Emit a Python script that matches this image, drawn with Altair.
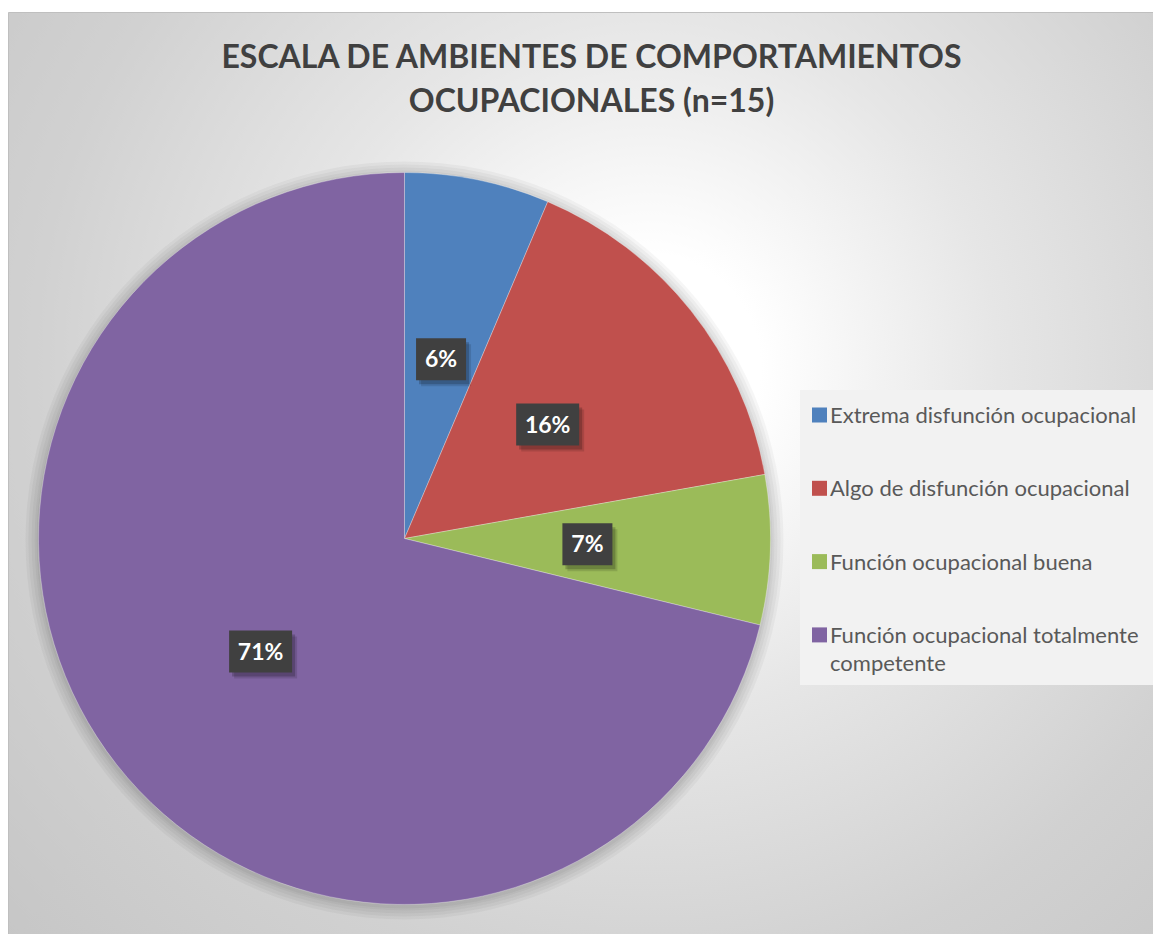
import altair as alt
import pandas as pd

# ---- data ----
CATEGORIAS = [
    "Extrema disfunción ocupacional",
    "Algo de disfunción ocupacional",
    "Función ocupacional buena",
    "Función ocupacional totalmente competente",
]
PORCENTAJES = [6.4, 15.8, 6.6, 71.2]
COLORES = ["#4F81BD", "#C0504D", "#9BBB59", "#8064A2"]
LEYENDA = [
    "Extrema disfunción ocupacional",
    "Algo de disfunción ocupacional",
    "Función ocupacional buena",
    "Función ocupacional totalmente\ncompetente",
]
TITULO = ["ESCALA DE AMBIENTES DE COMPORTAMIENTOS", "OCUPACIONALES (n=15)"]

# ---- layout ----
W, H = 1145, 926
CX, CY, R = 396.5, 530.5, 366
RL = R / 2
FONT = "Lato"

df = pd.DataFrame({
    "categoria": CATEGORIAS,
    "valor": PORCENTAJES,
    "orden": list(range(len(CATEGORIAS))),
    "leyenda": LEYENDA,
})
uno = pd.DataFrame({"k": [0]})

color_scale = alt.Scale(domain=CATEGORIAS, range=COLORES)

gradiente = {
    "gradient": "radial",
    "x1": 0.55, "y1": 0.40, "r1": 0,
    "x2": 0.55, "y2": 0.40, "r2": 0.8,
    "stops": [
        {"offset": 0.0, "color": "#ffffff"},
        {"offset": 0.12, "color": "#ffffff"},
        {"offset": 0.375, "color": "#e6e6e6"},
        {"offset": 0.66, "color": "#d1d1d1"},
        {"offset": 0.85, "color": "#c9c9c9"},
        {"offset": 1.0, "color": "#c3c3c3"},
    ],
}

fondo = alt.Chart(uno).mark_rect(fill=gradiente, stroke="#bfbfbf", strokeWidth=1).encode(
    x=alt.value(0.5), x2=alt.value(W + 20), y=alt.value(4.5), y2=alt.value(H + 20)
)

sombras = [
    alt.Chart(uno).mark_arc(theta=0, theta2=6.2832, radius=R + k, color="#000000", opacity=0.035).encode(
        x=alt.value(CX), y=alt.value(CY + 2)
    )
    for k in (2, 4, 7, 10, 13)
]

pie = alt.Chart(df).mark_arc(radius=R, stroke="#ffffff", strokeWidth=0.6, strokeOpacity=0.5).encode(
    theta=alt.Theta("valor:Q", stack=True),
    color=alt.Color("categoria:N", scale=color_scale, legend=None),
    order=alt.Order("orden:Q", sort="ascending"),
    x=alt.value(CX),
    y=alt.value(CY),
)

base_lab = (
    alt.Chart(df)
    .transform_joinaggregate(total="sum(valor)")
    .transform_window(cum="sum(valor)", sort=[alt.SortField("orden", order="ascending")], frame=[None, 0])
    .transform_calculate(mid="(datum.cum - datum.valor/2) / datum.total * 2 * PI")
    .transform_calculate(lx=f"{CX} + {RL} * sin(datum.mid)")
    .transform_calculate(ly=f"{CY} - {RL} * cos(datum.mid)")
    .transform_calculate(txt="format(datum.valor, '.0f') + '%'")
    .transform_calculate(hw="(24 + 13 * length(datum.txt)) / 2")
    .transform_calculate(bx1="datum.lx - datum.hw")
    .transform_calculate(bx2="datum.lx + datum.hw")
    .transform_calculate(by1="datum.ly - 21")
    .transform_calculate(by2="datum.ly + 21")
)

def caja(color, opacity, dx, dy):
    return base_lab.mark_rect(
        color=color, opacity=opacity, xOffset=dx, x2Offset=dx, yOffset=dy, y2Offset=dy
    ).encode(
        x=alt.X("bx1:Q", scale=None, axis=None),
        x2="bx2:Q",
        y=alt.Y("by1:Q", scale=None, axis=None),
        y2="by2:Q",
    )

sombra1 = caja("#000000", 0.12, 5, 6)
sombra2 = caja("#000000", 0.2, 3, 4)
cajas = caja("#404040", 1.0, 0, 0)

textos = base_lab.mark_text(
    font=FONT, fontSize=23, fontWeight="bold", color="#ffffff",
    align="center", baseline="alphabetic", dy=8,
).encode(
    x=alt.X("lx:Q", scale=None, axis=None),
    y=alt.Y("ly:Q", scale=None, axis=None),
    text="txt:N",
)

titulo = alt.Chart(uno).mark_text(
    text=TITULO, font=FONT, fontSize=32, fontWeight="bold", color="#404040",
    align="center", baseline="alphabetic", lineHeight=44,
).encode(x=alt.value(583.5), y=alt.value(60))

ley_fondo = alt.Chart(uno).mark_rect(fill="#f2f2f2").encode(
    x=alt.value(792), x2=alt.value(W + 20), y=alt.value(382), y2=alt.value(677)
)

ley_base = alt.Chart(df).transform_calculate(yy="407 + 73.3 * datum.orden")

ley_sim = ley_base.mark_square(size=225, opacity=1).encode(
    x=alt.value(811.5),
    y=alt.Y("yy:Q", scale=None, axis=None),
    color=alt.Color("categoria:N", scale=color_scale, legend=None),
)

ley_txt = ley_base.mark_text(
    align="left", baseline="alphabetic", dy=8, font=FONT, fontSize=22,
    color="#595959", lineBreak="\n", lineHeight=28,
).encode(
    x=alt.value(822),
    y=alt.Y("yy:Q", scale=None, axis=None),
    text="leyenda:N",
)

chart = alt.layer(
    fondo, *sombras, pie, sombra1, sombra2, cajas, textos, titulo, ley_fondo, ley_sim, ley_txt
).properties(
    width=W, height=H, autosize=alt.AutoSizeParams(type="none"), padding=0, background="#ffffff"
).configure_view(stroke="transparent")

chart.save("out.html", embed_options={"renderer": "svg", "actions": False})
